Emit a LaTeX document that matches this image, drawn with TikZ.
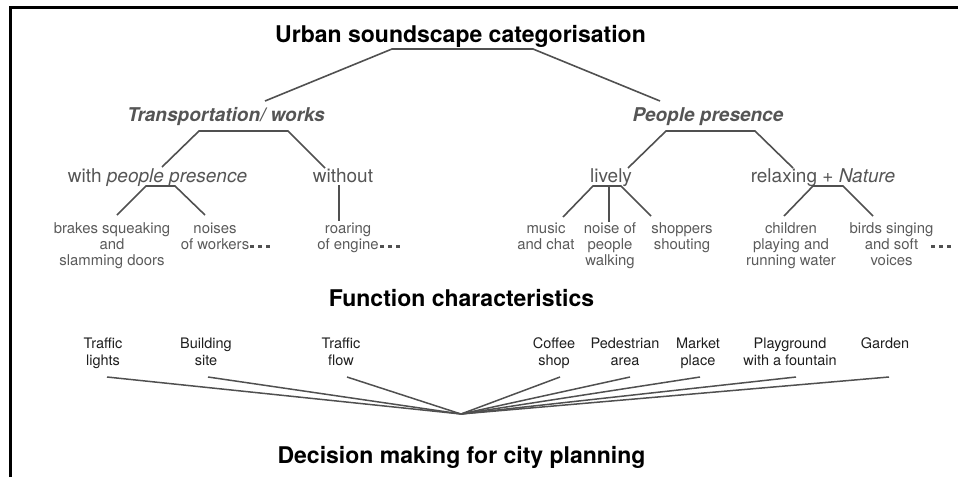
\documentclass[tikz,border=0pt]{standalone}
\usepackage{fontspec}
\setmainfont{TeX Gyre Heros}
\definecolor{treeline}{HTML}{505050}
\definecolor{treetext}{HTML}{555555}
\definecolor{leaftext}{HTML}{5A5A5A}
\definecolor{itemtext}{HTML}{1E1E1E}
\tikzset{
  headline/.style={font=\fontsize{23}{27}\selectfont\bfseries, text=black, anchor=base, inner sep=0pt},
  category/.style={font=\fontsize{19}{22}\selectfont\bfseries\itshape, text=treetext, anchor=base, inner sep=0pt},
  subcat/.style={font=\fontsize{19}{22}\selectfont, text=treetext, anchor=base, inner sep=0pt},
  % multi-line nodes: the base anchor sits on the last line
  leaf/.style={font=\fontsize{14.9}{16.3}\selectfont, text=leaftext, align=center, anchor=base, inner sep=0pt},
  item/.style={font=\fontsize{14.5}{17}\selectfont, text=itemtext, align=center, anchor=base, inner sep=0pt},
  branch/.style={draw=treeline, line width=1.6pt, line join=miter},
  spoke/.style={draw=treeline, line width=1.5pt},
  frameline/.style={draw=black, line width=2.6pt},
  moredots/.style={fill=treeline, draw=none},
}
\newcommand{\threedots}[2]{%
  \foreach \k in {0,1,2} {\fill[moredots] (#1+8*\k-1.6,#2-1.6) rectangle ++(3.2,3.2);}}
\begin{document}
\begin{tikzpicture}[x=1pt,y=-1pt]
\useasboundingbox (0,0) rectangle (958,477);

% open frame: top and left edges
\draw[frameline] (10.5,477) -- (10.5,7.2) -- (958,7.2);

% headings
\node[headline] (title) at (460.5,42) {Urban soundscape categorisation};
\node[headline] (func)  at (461.5,306) {Function characteristics};
\node[headline] (dec)   at (461.5,463) {Decision making for city planning};

% first level
\node[category] (trans)  at (226,121) {Transportation/ works};
\node[category] (people) at (708,121) {People presence};

% second level
\node[subcat] (withp)   at (157.5,182) {with \textit{people presence}};
\node[subcat] (without) at (343,182) {without};
\node[subcat] (lively)  at (611,182) {lively};
\node[subcat] (relax)   at (823,182) {relaxing + \textit{Nature}};

% sound examples (y = baseline of the last line)
\node[leaf] (brakes)   at (112,265.6) {brakes squeaking\\and\\slamming doors};
\node[leaf] (workers)  at (215,249.3) {noises\\of workers};
\node[leaf] (engine)   at (348,249.3) {roaring\\of engine};
\node[leaf] (music)    at (546,249.3) {music\\and chat};
\node[leaf] (walking)  at (610,265.6) {noise of\\people\\walking};
\node[leaf] (shoppers) at (682,249.3) {shoppers\\shouting};
\node[leaf] (children) at (791,265.6) {children\\playing and\\running water};
\node[leaf] (birds)    at (891.5,265.6) {birds singing\\and soft\\voices};

% open-ended lists
\threedots{252}{246.5}
\threedots{382}{246.5}
\threedots{933}{246.5}

% function characteristics
\node[item] (lights)     at (103,365) {Traffic\\lights};
\node[item] (building)   at (206,365) {Building\\site};
\node[item] (flow)       at (341,365) {Traffic\\flow};
\node[item] (coffee)     at (554,365) {Coffee\\shop};
\node[item] (pedestrian) at (625,365) {Pedestrian\\area};
\node[item] (market)     at (698,365) {Market\\place};
\node[item] (playground) at (790,365) {Playground\\with a fountain};
\node[item] (garden)     at (885,348) {Garden};

% branch points of the tree
\coordinate (t1) at (265,101);  \coordinate (t2) at (392,49);
\coordinate (t3) at (533,49);   \coordinate (t4) at (660,101);
\coordinate (a1) at (162,167);  \coordinate (a2) at (199,131);
\coordinate (a3) at (288,131);  \coordinate (a4) at (325,168);
\coordinate (b1) at (117,215);  \coordinate (b2) at (146,186);
\coordinate (b3) at (175,186);  \coordinate (b4) at (205,215);
\coordinate (c1) at (339,185);  \coordinate (c2) at (339,221);
\coordinate (d1) at (628,168);  \coordinate (d2) at (666,131);
\coordinate (d3) at (755,131);  \coordinate (d4) at (793,168);
\coordinate (e1) at (563,217);  \coordinate (e2) at (593,186);
\coordinate (e3) at (621,186);  \coordinate (e4) at (651,216);
\coordinate (e5) at (609,186);  \coordinate (e6) at (609,222);
\coordinate (g1) at (784,216);  \coordinate (g2) at (813,186);
\coordinate (g3) at (843,186);  \coordinate (g4) at (873,216);

\draw[branch] (t1) -- (t2) -- (t3) -- (t4);
\draw[branch] (a1) -- (a2) -- (a3) -- (a4);
\draw[branch] (b1) -- (b2) -- (b3) -- (b4);
\draw[branch] (c1) -- (c2);
\draw[branch] (d1) -- (d2) -- (d3) -- (d4);
\draw[branch] (e1) -- (e2) -- (e3) -- (e4);
\draw[branch] (e5) -- (e6);
\draw[branch] (g1) -- (g2) -- (g3) -- (g4);

% all functions meet in one decision point
\coordinate (hub) at (461,414);
\coordinate (s1) at (107,377);  \coordinate (s2) at (208,377);
\coordinate (s3) at (347,377);  \coordinate (s4) at (560,377);
\coordinate (s5) at (630,377);  \coordinate (s6) at (700,377);
\coordinate (s7) at (796,377);  \coordinate (s8) at (889,377);
\foreach \s in {s1,s2,s3,s4,s5,s6,s7,s8} \draw[spoke] (\s) -- (hub);
\end{tikzpicture}
\end{document}
